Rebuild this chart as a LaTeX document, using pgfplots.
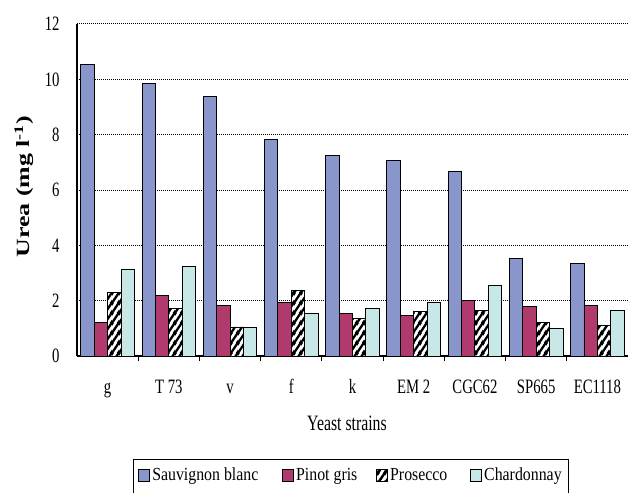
\documentclass[border=0pt]{standalone}
\usepackage{fontspec}
\setmainfont{Liberation Serif}[FakeStretch=0.72]
\newfontfamily\ylabfont{Liberation Serif}
\newfontfamily\legfont{Liberation Serif}[FakeStretch=0.86]
\usepackage{graphicx}
\usepackage{pgfplots}
\usepackage{pgfplotstable}
\pgfplotsset{compat=1.18}
\usetikzlibrary{patterns}

\definecolor{sbcol}{RGB}{136,150,204}
\definecolor{pgcol}{RGB}{176,58,110}
\definecolor{chcol}{RGB}{200,232,232}

\pgfdeclarepatternformonly{thickstripes}{\pgfpoint{0bp}{0bp}}{\pgfpoint{7bp}{10bp}}{\pgfpoint{7bp}{10bp}}{%
  \pgfsetlinewidth{2.6bp}%
  \pgfpathmoveto{\pgfpoint{-7bp}{-10bp}}\pgfpathlineto{\pgfpoint{14bp}{20bp}}%
  \pgfpathmoveto{\pgfpoint{0bp}{-10bp}}\pgfpathlineto{\pgfpoint{14bp}{10bp}}%
  \pgfpathmoveto{\pgfpoint{-7bp}{0bp}}\pgfpathlineto{\pgfpoint{7bp}{20bp}}%
  \pgfusepath{stroke}}

\pgfplotstableread{
x sb pg pro ch
0 10.54 1.20 2.30 3.13
1 9.85 2.19 1.73 3.23
2 9.38 1.84 1.05 1.02
3 7.82 1.95 2.36 1.54
4 7.24 1.54 1.36 1.71
5 7.06 1.48 1.60 1.95
6 6.66 2.00 1.66 2.54
7 3.52 1.78 1.20 1.01
8 3.34 1.84 1.10 1.66
}\datatable

\begin{document}
\begin{tikzpicture}
\begin{axis}[
  at={(0,0)}, anchor=south west,
  scale only axis, width=551bp, height=332bp,
  ybar=0pt, bar width=13.4bp,
  xmin=-0.5, xmax=8.5, ymin=0, ymax=12,
  axis x line*=bottom, axis y line*=left,
  axis line style={black, line width=1.3bp, -},
  xtick={0,...,8},
  xticklabels={g,T 73,v,f,k,EM 2,CGC62,SP665,EC1118},
  minor xtick={0.5,1.5,...,7.5},
  ytick={0,2,...,12},
  major tick length=0pt, minor tick length=5bp, tick align=outside,
  tick style={black, line width=1bp},
  ymajorgrids,
  grid style={black, line width=1bp, dash pattern=on 1bp off 1bp},
  /pgf/number format/assume math mode=true,
  ticklabel style={font=\fontsize{20.5}{24}\selectfont},
  xticklabel style={anchor=base, yshift=-37bp},
  yticklabel style={anchor=east, xshift=-14bp},
  ylabel={\scalebox{1}[0.72]{\ylabfont\fontsize{26}{30}\selectfont\bfseries Urea (mg l\textsuperscript{-1})}},
  ylabel style={at={(axis description cs:-0.0962,0.51)}, anchor=center},
  xlabel={Yeast strains},
  xlabel style={font=\fontsize{22}{26}\selectfont, at={(axis description cs:0.49,-0.2018)}, anchor=center},
  legend image code/.code={\draw[#1, line width=0.8bp] (0bp,-3.75bp) rectangle (11bp,8.25bp);},
  legend columns=4,
  legend style={at={(axis description cs:0.1016,-0.310)}, anchor=north west,
    draw=black, line width=1bp, font=\legfont\fontsize{18.5}{21}\selectfont,
    inner xsep=5bp, inner ysep=9bp,
    nodes={inner xsep=2bp, inner ysep=1bp, text height=11bp, text depth=5.5bp},
    /tikz/column 2/.style={column sep=22bp},
    /tikz/column 4/.style={column sep=17bp},
    /tikz/column 6/.style={column sep=21bp},
    /tikz/column 8/.style={column sep=0bp}},
]
\addplot[draw=black, line width=0.9bp, fill=sbcol] table[x=x,y=sb]{\datatable};
\addlegendentry{Sauvignon blanc}
\addplot[draw=black, line width=0.9bp, fill=pgcol] table[x=x,y=pg]{\datatable};
\addlegendentry{Pinot gris}
\addplot[draw=black, line width=0.9bp, fill=white, postaction={pattern=thickstripes, pattern color=black}] table[x=x,y=pro]{\datatable};
\addlegendentry{Prosecco}
\addplot[draw=black, line width=0.9bp, fill=chcol] table[x=x,y=ch]{\datatable};
\addlegendentry{Chardonnay\hspace{12bp}}
\end{axis}
\pgfresetboundingbox
\useasboundingbox (-77bp,-137bp) rectangle (551bp,356bp);
\end{tikzpicture}
\end{document}
